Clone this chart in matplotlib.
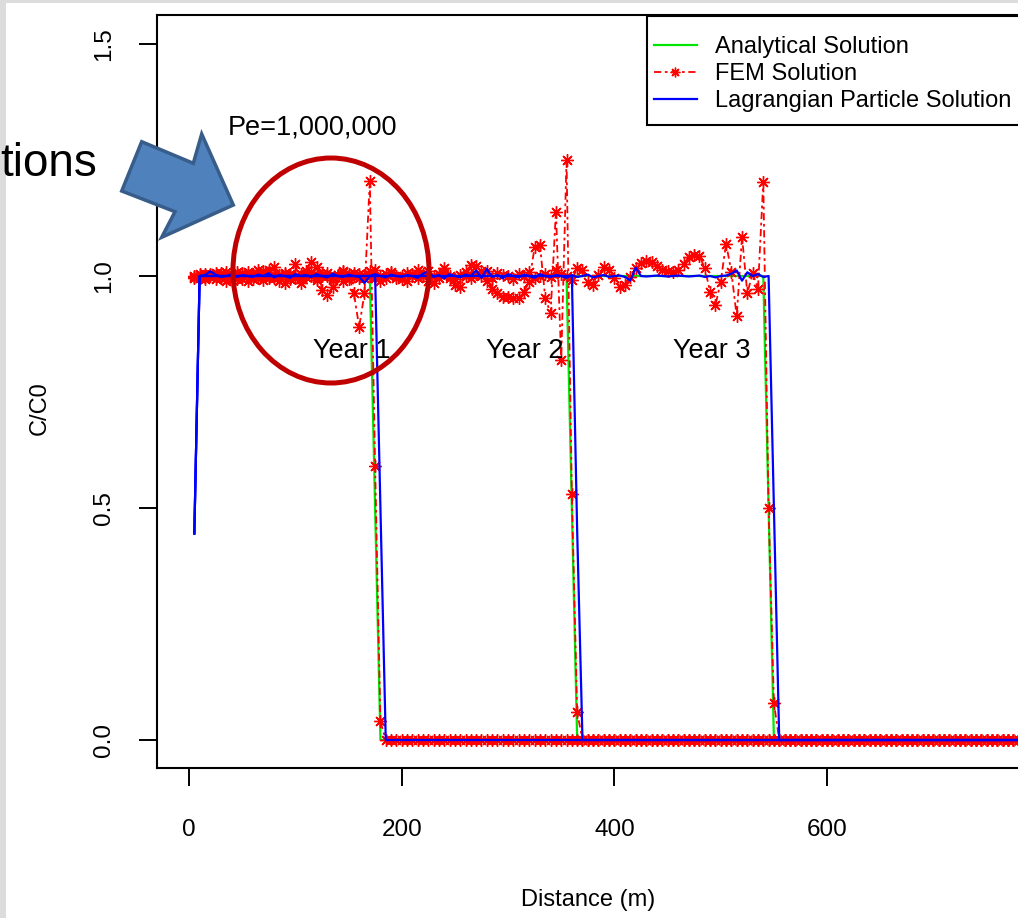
import numpy as np
import matplotlib
matplotlib.use("Agg")
import matplotlib.pyplot as plt
from matplotlib.patches import Polygon, Ellipse, Rectangle
from matplotlib.lines import Line2D

plt.rcParams['font.family'] = ['Liberation Sans', 'DejaVu Sans']

# ---------------- data ----------------
grid_x = np.arange(5, 785, 5)          # distance grid (m), 5..780

analytical_y1 = [1.0] * 34 + [0.5] + [0.0] * 121
analytical_y2 = [1.0] * 71 + [0.5] + [0.0] * 84
analytical_y3 = [1.0] * 108 + [0.5] + [0.0] * 47

fem_y1 = [0.995, 1.002, 0.998, 1.004, 0.993, 1.006, 0.990, 1.000, 1.008, 0.994,
          0.990, 1.005, 1.012, 0.992, 0.998, 1.020, 1.000, 0.986, 1.004, 1.025,
          0.984, 1.010, 1.030, 1.020, 0.970, 0.959, 0.977, 1.000, 1.010, 1.004,
          0.963, 0.890, 0.963, 1.205, 0.590, 0.040] + [0.0] * 120

fem_y2 = [1.000, 0.996, 1.004, 1.000, 1.006, 0.995, 1.003, 0.992, 1.000, 1.007,
          1.002, 0.994, 1.000, 1.010, 0.996, 1.003, 0.990, 1.005, 1.000, 0.995,
          1.004, 0.998, 1.008, 0.992, 1.000, 1.006, 0.995, 1.002, 0.990, 1.000,
          1.006, 0.996, 1.003, 1.010, 0.995, 0.990, 1.004, 1.008, 0.996, 1.000,
          0.990, 1.005, 1.012, 1.000, 0.990, 0.984, 1.005, 1.017, 0.996, 0.980,
          0.977, 1.000, 1.024, 1.022, 1.010, 0.990, 0.973, 0.963, 0.955, 0.955,
          0.952, 0.952, 0.966, 0.988, 1.063, 1.067, 0.952, 0.920, 1.139, 0.820,
          1.250, 0.530, 0.060] + [0.0] * 83

fem_y3 = [0.998, 1.004, 0.994, 1.002, 1.000, 0.996, 1.008, 1.000, 0.993, 1.003,
          1.008, 1.000, 0.995, 1.004, 1.012, 0.996, 1.002, 1.006, 0.994, 1.000,
          0.996, 1.004, 1.000, 0.995, 1.005, 1.000, 0.992, 1.003, 1.008, 0.994,
          1.000, 1.004, 0.996, 1.000, 1.012, 1.000, 0.995, 1.006, 1.000, 0.994,
          1.006, 1.000, 0.995, 1.004, 1.010, 1.000, 0.996, 1.006, 1.000, 0.994,
          1.002, 1.008, 0.996, 1.004, 1.000, 1.010, 0.995, 1.006, 1.002, 1.000,
          0.994, 1.004, 1.000, 1.008, 0.996, 1.000, 1.005, 0.998, 1.012, 1.004,
          1.000, 0.991, 1.017, 1.013, 0.988, 0.980, 1.002, 1.020, 1.013, 0.996,
          0.976, 0.980, 0.998, 1.018, 1.028, 1.033, 1.030, 1.022, 1.014, 1.010,
          1.009, 1.013, 1.025, 1.042, 1.045, 1.043, 1.017, 0.966, 0.937, 0.988,
          1.070, 1.009, 0.913, 1.085, 0.963, 1.006, 0.973, 1.203, 0.500, 0.080] + [0.0] * 46

lagr_y1 = [0.445] + [1.0] * 34 + [0.5] + [0.0] * 120
lagr_y2 = [0.445] + [1.0] * 71 + [0.45] + [0.0] * 83
lagr_y3 = ([0.445,
            1.000, 1.002, 1.010, 1.003, 0.998, 1.000, 1.004, 0.998, 1.002, 1.000,
            0.998, 1.003, 1.000, 1.006, 0.997, 1.002, 1.000, 0.996, 1.004, 1.000,
            1.002, 0.998, 1.004, 1.000, 0.997, 1.005, 1.000, 0.998, 1.003, 1.000,
            0.998, 0.985, 1.000, 1.004, 1.000, 0.997, 1.003, 1.000, 0.998, 1.002,
            1.000, 0.996, 1.005, 1.010, 0.998, 1.002, 0.995, 1.004, 1.000, 0.997,
            1.003, 1.000, 1.012, 0.996, 1.015, 0.998, 1.002, 0.995, 1.004, 1.000,
            0.997, 1.003, 1.000, 0.996, 1.004, 1.000, 0.998, 1.002, 1.000, 0.996,
            1.002, 0.998, 1.000, 1.003, 0.997, 1.000, 1.002, 0.998, 1.000, 1.001,
            0.998, 0.990, 1.018, 1.000, 0.999, 1.000, 1.001, 1.000, 0.999, 1.000,
            1.001, 1.000, 0.999, 1.000, 1.001, 0.998, 1.000, 0.997, 1.000, 1.001,
            1.005, 1.012, 0.990, 1.008, 1.000, 1.004, 0.998, 1.000]
           + [0.5] + [0.0] * 46)

xticks = [0, 200, 400, 600]
yticks = [0.0, 0.5, 1.0, 1.5]
ytick_labels = ["0.0", "0.5", "1.0", "1.5"]
year_labels = ["Year 1", "Year 2", "Year 3"]
year_label_x = [153, 316, 492]
legend_labels = ["Analytical Solution", "FEM Solution", "Lagrangian Particle Solution"]

# ---------------- figure ----------------
W, H = 1018, 918
fig = plt.figure(figsize=(W / 100, H / 100), dpi=100)
fig.patch.set_facecolor("white")

def fx(px):
    return px / W

def fy(py):
    return 1 - py / H

ax = fig.add_axes([fx(157), fy(768), (1020 - 157) / W, (768 - 15) / H])
ax.set_xlim(-30.1, 781.4)
ax.set_ylim(-0.0603, 1.5625)

green = "#00e600"
red = "#ff0000"
blue = "#0000ff"
ast = (8, 2, 0)
fem_ls = (0, (4, 2, 1.5, 2))

for ya in (analytical_y1, analytical_y2, analytical_y3):
    ax.plot(grid_x, ya, color=green, lw=1.6, zorder=2)
for yf in (fem_y1, fem_y2, fem_y3):
    ax.plot(grid_x, yf, color=red, lw=1.3, ls=fem_ls,
            marker=ast, ms=9, mew=1.0, mec=red, zorder=3)
for yl in (lagr_y1, lagr_y2, lagr_y3):
    ax.plot(grid_x, yl, color=blue, lw=1.6, zorder=4)

for s in ("top", "bottom", "left"):
    ax.spines[s].set_linewidth(1.5)
ax.spines["right"].set_visible(False)

ax.set_xticks(xticks)
ax.set_xticklabels([str(v) for v in xticks])
ax.set_yticks(yticks)
ax.set_yticklabels(ytick_labels, rotation=90, va="center")
ax.tick_params(axis="both", length=13, width=1.4, labelsize=17.5)
ax.tick_params(axis="x", pad=24)
ax.tick_params(axis="y", pad=17)

fig.text(fx(588), fy(900), "Distance (m)", ha="center", va="center", fontsize=17)
fig.text(fx(40), fy(408), "C/C0", ha="center", va="center", rotation=90, fontsize=17)

for lab, xv in zip(year_labels, year_label_x):
    ax.text(xv, 0.838, lab, ha="center", va="center", fontsize=19.5, zorder=6)
ax.text(115.7, 1.321, "Pe=1,000,000", ha="center", va="center", fontsize=19.5, zorder=6)

# legend
fig.add_artist(Rectangle((fx(647), fy(125)), (1040 - 647) / W, (125 - 16) / H,
                         transform=fig.transFigure, facecolor="white",
                         edgecolor="black", lw=1.5, zorder=5))
handles = [Line2D([], [], color=green, lw=1.6),
           Line2D([], [], color=red, lw=1.3, ls=fem_ls, marker=ast,
                  ms=7, mew=1.0),
           Line2D([], [], color=blue, lw=1.6)]
leg = fig.legend(handles, legend_labels, loc="upper left",
                 bbox_to_anchor=(fx(654), fy(36)), bbox_transform=fig.transFigure,
                 frameon=False, fontsize=17, borderpad=0, borderaxespad=0,
                 handlelength=1.8, handletextpad=0.8, labelspacing=0.22,
                 numpoints=1)
leg.set_zorder(6)

# slide overlays
fig.add_artist(Rectangle((0, 0), fx(6), 1, transform=fig.transFigure,
                         facecolor="#dcdcdc", edgecolor="none", zorder=7))
fig.add_artist(Rectangle((0, fy(3)), 1, 3 / H, transform=fig.transFigure,
                         facecolor="#dcdcdc", edgecolor="none", zorder=7))
fig.text(fx(97), fy(176), "tions", ha="right", va="baseline", fontsize=33, zorder=8)

arrow_px = [(121.7, 191), (141.7, 141.7), (193.3, 163.3), (201.7, 134),
            (233.3, 205), (161.7, 237.3), (175, 211.7)]
fig.add_artist(Polygon([(fx(a), fy(b)) for a, b in arrow_px], closed=True,
                       transform=fig.transFigure, facecolor="#4f81bd",
                       edgecolor="#385d8a", lw=2.5, zorder=8))
fig.add_artist(Ellipse((fx(331), fy(270.5)), 196 / W, 225 / H,
                       transform=fig.transFigure, facecolor="none",
                       edgecolor="#c00000", lw=3.6, zorder=8))

fig.savefig("out.png", dpi=100)
